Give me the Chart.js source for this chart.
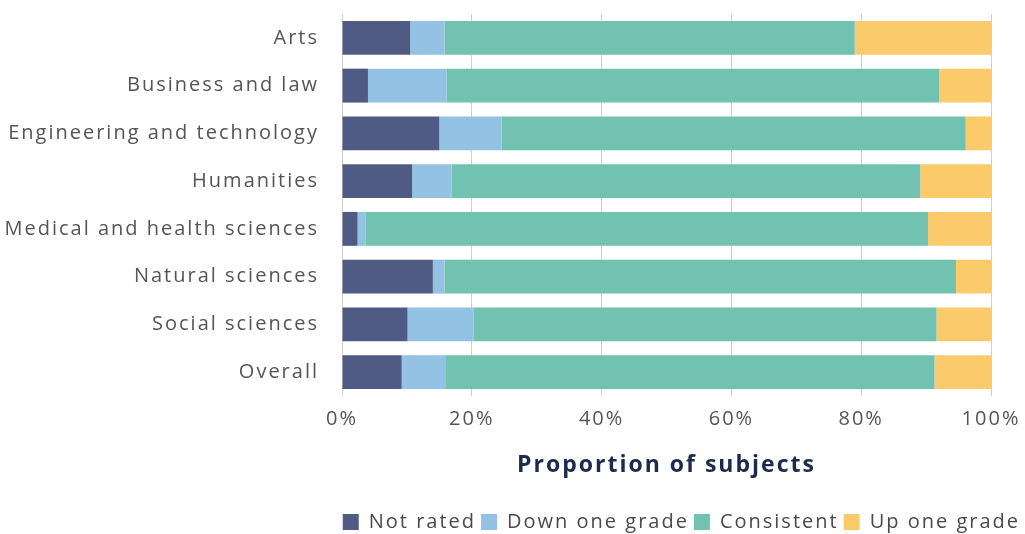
<!DOCTYPE html>
<html>
<head>
<meta charset="utf-8">
<script src="https://cdn.jsdelivr.net/npm/chart.js@4"></script>
<style>
  html, body { margin: 0; padding: 0; background: #fff; }
  #wrap { width: 1025px; height: 534px; }
</style>
</head>
<body>
<div id="wrap"><canvas id="myChart" width="1025" height="534"></canvas></div>
<script>
const subjects = ['Arts', 'Business and law', 'Engineering and technology', 'Humanities',
    'Medical and health sciences', 'Natural sciences', 'Social sciences', 'Overall'];
const notRated = [10.5, 4.0, 15.0, 10.8, 2.4, 14.0, 10.1, 9.2];
const downOne = [5.3, 12.1, 9.6, 6.1, 1.2, 1.8, 10.2, 6.7];
const consistent = [63.2, 75.9, 71.5, 72.2, 86.7, 78.8, 71.3, 75.4];
const upOne = [21.0, 8.0, 3.9, 10.9, 9.7, 5.4, 8.4, 8.7];
const xTicks = [0, 20, 40, 60, 80, 100];

// wide lettering, closer to the original typeface
const spacing = {
    id: 'spacing',
    beforeUpdate: (chart) => { chart.ctx.letterSpacing = '2px'; },
    beforeDraw: (chart) => { chart.ctx.letterSpacing = '2px'; },
};

const ctx = document.getElementById('myChart').getContext('2d');

const chart = new Chart(ctx, {
    type: 'bar',
    plugins: [spacing],
    data: {
        labels: subjects,
        datasets: [
            { label: 'Not rated', data: notRated, backgroundColor: '#4f5b82' },
            { label: 'Down one grade', data: downOne, backgroundColor: '#93c2e5' },
            { label: 'Consistent', data: consistent, backgroundColor: '#72c2b1' },
            { label: 'Up one grade', data: upOne, backgroundColor: '#fbca6b' },
        ],
    },
    options: {
        indexAxis: 'y',
        responsive: false,
        animation: false,
        layout: { padding: { top: 14, right: 0, bottom: -8, left: 0 } },
        datasets: { bar: { barPercentage: 0.71, categoryPercentage: 1.0 } },
        plugins: {
            tooltip: { enabled: false },
            legend: {
                position: 'bottom',
                align: 'end',
                labels: {
                    boxWidth: 16,
                    boxHeight: 16,
                    padding: 5,
                    color: '#4a4a4a',
                    font: { family: 'Open Sans', size: 20 },
                },
            },
        },
        scales: {
            x: {
                stacked: true,
                min: 0,
                max: 100,
                afterBuildTicks: (axis) => { axis.ticks = xTicks.map((v) => ({ value: v })); },
                afterFit: (axis) => { axis.height = 111; axis.paddingRight = 34; },
                grid: { color: '#cfcfcf', drawTicks: false },
                border: { display: false },
                ticks: {
                    padding: 11,
                    color: '#555',
                    font: { family: 'Open Sans', size: 20 },
                    callback: (v) => v + '%',
                },
                title: {
                    display: true,
                    text: 'Proportion of subjects',
                    color: '#1c2a4b',
                    font: { family: 'Open Sans', size: 23, weight: 'bold' },
                    padding: { top: 10, bottom: 28 },
                },
            },
            y: {
                stacked: true,
                grid: { display: false },
                border: { display: false },
                afterFit: (axis) => { axis.width = 342; axis.paddingTop = 0; axis.paddingBottom = 0; },
                ticks: {
                    padding: 15,
                    color: '#555',
                    font: { family: 'Open Sans', size: 20 },
                },
            },
        },
    },
});
</script>
</body>
</html>
